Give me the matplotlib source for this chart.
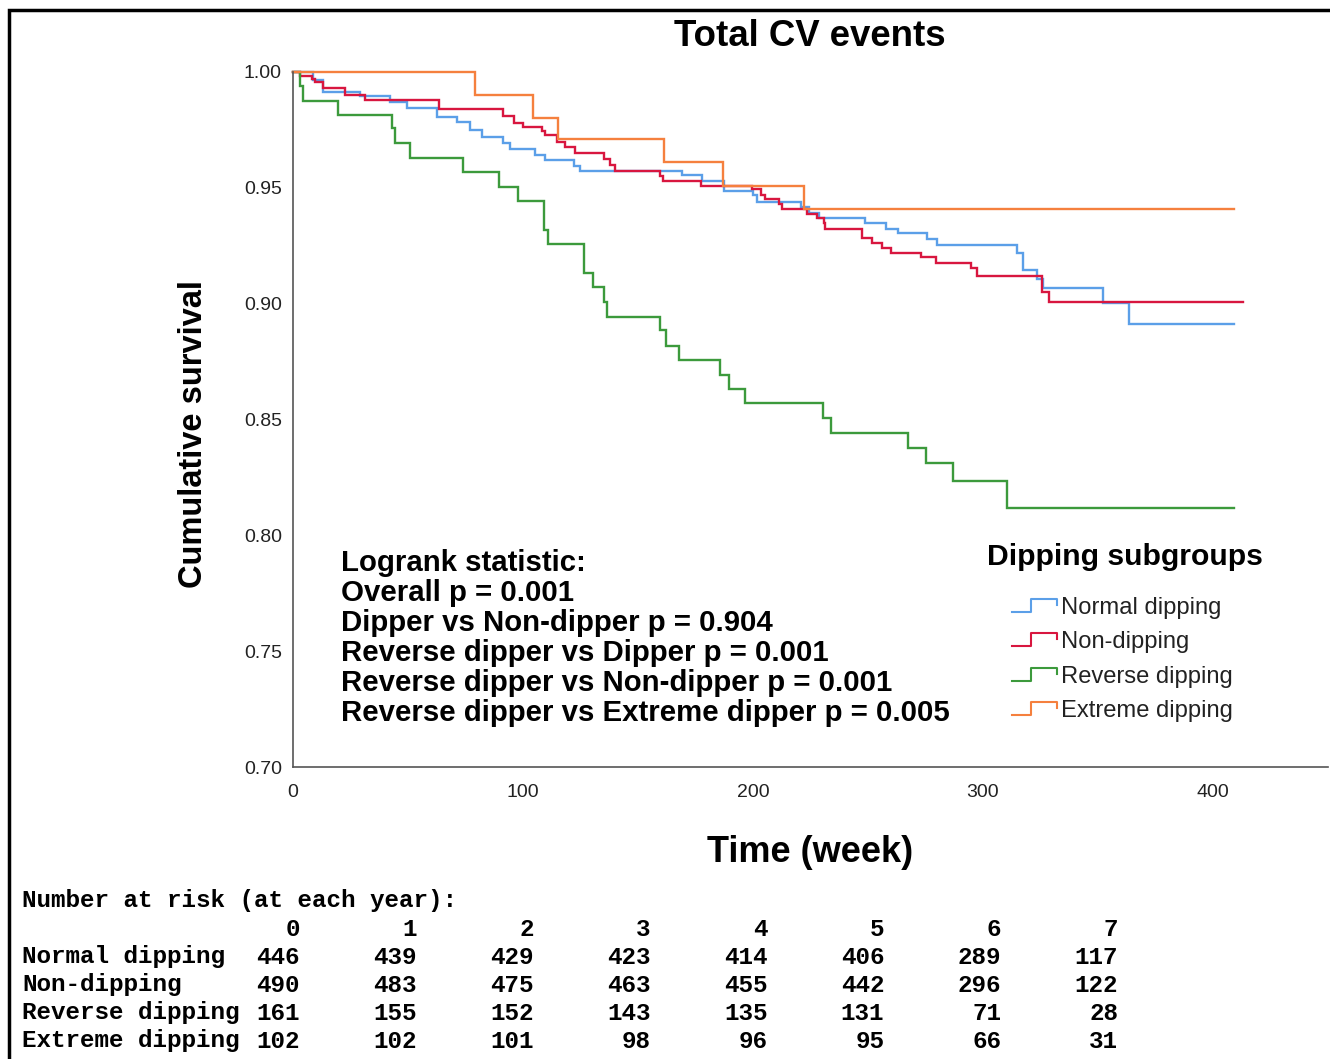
import matplotlib
matplotlib.use("Agg")
import matplotlib.pyplot as plt
from matplotlib.lines import Line2D

# ---------------- data ----------------
groups = ["Normal dipping", "Non-dipping", "Reverse dipping", "Extreme dipping"]
colors = ["#5B9FE8", "#D8163F", "#3C9A3C", "#F5803E"]

normal_t = [8.8, 13.2, 29.2, 42.2, 49.5, 62.5, 71.2, 77, 82.1, 91.5, 94.4, 105.3, 109.7,
            122, 124.9, 169.2, 177.9, 187.3, 200.1, 201.8, 220.7, 224.3, 228.6, 248.5,
            257.8, 263, 275.6, 280.2, 314.7, 317.6, 323.4, 326.3, 352, 363.6]
normal_s = [0.9965, 0.9915, 0.9896, 0.9872, 0.9843, 0.9807, 0.9786, 0.975, 0.9721, 0.9692,
            0.9666, 0.9642, 0.962, 0.9594, 0.9574, 0.9555, 0.9531, 0.9488, 0.9469, 0.944,
            0.9419, 0.939, 0.937, 0.9347, 0.9321, 0.9304, 0.9279, 0.9253, 0.9217, 0.9145,
            0.9105, 0.9066, 0.9002, 0.8912]
normal_end = 409

nondip_t = [3.0, 8.1, 9.6, 13.2, 22.6, 31.3, 63.3, 91.5, 95.9, 100.2, 108.2, 109.7, 114.8,
            118.4, 122.7, 135, 138, 140.2, 159.7, 160.9, 177.2, 199.6, 203.3, 205.4, 211.2,
            212.7, 223.6, 227.9, 230.8, 231.5, 247.5, 251.9, 256.2, 259.9, 272.9, 279.4,
            294.7, 297.3, 325.8, 328.8]
nondip_s = [0.9983, 0.9968, 0.9958, 0.993, 0.9901, 0.9879, 0.9839, 0.981, 0.9781, 0.9764,
            0.9747, 0.9728, 0.9699, 0.9678, 0.9652, 0.9623, 0.9599, 0.9574, 0.9551, 0.9531,
            0.9508, 0.9494, 0.9469, 0.945, 0.943, 0.9407, 0.9387, 0.9368, 0.9347, 0.9321,
            0.9282, 0.9263, 0.9239, 0.922, 0.92, 0.9177, 0.9153, 0.912, 0.9052, 0.9009]
nondip_end = 413

reverse_t = [3.0, 4.5, 19.4, 43, 44.4, 51, 74, 89.4, 98, 109, 110.8, 126.4, 130.4, 135,
             136.5, 159.7, 162, 167.7, 185.6, 189.5, 196.7, 230.4, 233.7, 267.5, 275,
             287.1, 310.6]
reverse_s = [0.9938, 0.9876, 0.9814, 0.9757, 0.9692, 0.9627, 0.957, 0.9505, 0.9444, 0.9318,
             0.9258, 0.9134, 0.9071, 0.9008, 0.8944, 0.8886, 0.8819, 0.8757, 0.8692, 0.863,
             0.857, 0.8505, 0.8443, 0.8378, 0.8314, 0.8235, 0.8119]
reverse_end = 409

extreme_t = [79, 104.5, 115, 161.5, 187, 222]
extreme_s = [0.990, 0.980, 0.971, 0.961, 0.951, 0.941]
extreme_end = 409

series_t = [normal_t, nondip_t, reverse_t, extreme_t]
series_s = [normal_s, nondip_s, reverse_s, extreme_s]
series_end = [normal_end, nondip_end, reverse_end, extreme_end]

x_ticks = [0, 100, 200, 300, 400]
y_ticks = [0.70, 0.75, 0.80, 0.85, 0.90, 0.95, 1.00]

logrank_lines = ["Logrank statistic:",
                 "Overall p = 0.001",
                 "Dipper vs Non-dipper p = 0.904",
                 "Reverse dipper vs Dipper p = 0.001",
                 "Reverse dipper vs Non-dipper p = 0.001",
                 "Reverse dipper vs Extreme dipper p = 0.005"]

risk_years = [0, 1, 2, 3, 4, 5, 6, 7]
risk_normal = [446, 439, 429, 423, 414, 406, 289, 117]
risk_nondip = [490, 483, 475, 463, 455, 442, 296, 122]
risk_reverse = [161, 155, 152, 143, 135, 131, 71, 28]
risk_extreme = [102, 102, 101, 98, 96, 95, 66, 31]
risk_rows = [risk_normal, risk_nondip, risk_reverse, risk_extreme]

# ---------------- figure ----------------
W, H = 1330, 1059
fig = plt.figure(figsize=(W / 100, H / 100), dpi=100)
fig.patch.set_facecolor("white")

def fx(px):
    return px / W

def fy(py):
    return 1 - py / H

ax = fig.add_axes([fx(293), fy(767), fx(1328) - fx(293), fy(72) - fy(767)])
ax.set_xlim(0, 450)
ax.set_ylim(0.70, 1.0)

for t, s, end, c in zip(series_t, series_s, series_end, colors):
    xs = [0] + list(t) + [end]
    ys = [1.0] + list(s) + [s[-1]]
    ax.plot(xs, ys, drawstyle="steps-post", color=c, lw=1.7, clip_on=False,
            solid_joinstyle="miter")

for side in ["top", "right"]:
    ax.spines[side].set_visible(False)
for side in ["left", "bottom"]:
    ax.spines[side].set_color("#555555")
    ax.spines[side].set_linewidth(1.2)

ax.set_xticks(x_ticks)
ax.set_xticklabels([str(v) for v in x_ticks])
ax.set_yticks(y_ticks)
ax.set_yticklabels([f"{v:.2f}" for v in y_ticks])
ax.tick_params(axis="both", length=0, labelsize=14, colors="#222222")
ax.tick_params(axis="x", pad=12)
ax.tick_params(axis="y", pad=8)
for lab in ax.get_xticklabels() + ax.get_yticklabels():
    lab.set_fontfamily("Liberation Sans")

sans = ["Liberation Sans", "DejaVu Sans"]
mono = ["Liberation Mono", "DejaVu Sans Mono"]

fig.text(fx(810), fy(37), "Total CV events", ha="center", va="center",
         fontsize=26.4, fontweight="bold", family=sans)
fig.text(fx(193), fy(434), "Cumulative survival", ha="center", va="center",
         rotation=90, fontsize=23.5, fontweight="bold", family=sans)
fig.text(fx(810), fy(852), "Time (week)", ha="center", va="center",
         fontsize=26, fontweight="bold", family=sans)

# logrank annotation
for i, line in enumerate(logrank_lines):
    fig.text(fx(341), fy(563 + 30 * i), line, ha="left", va="center",
             fontsize=21.2, fontweight="bold", family=sans)

# legend (manual, SPSS style)
fig.text(fx(1125), fy(557), "Dipping subgroups", ha="center", va="center",
         fontsize=21.7, fontweight="bold", family=sans)
leg_y = [608, 642, 677, 711]
for name, c, yy in zip(groups, colors, leg_y):
    xs = [fx(1012), fx(1031), fx(1031), fx(1057), fx(1057)]
    ys = [fy(yy + 4), fy(yy + 4), fy(yy - 9), fy(yy - 9), fy(yy - 3)]
    fig.add_artist(Line2D(xs, ys, color=c, lw=1.5, transform=fig.transFigure))
    fig.text(fx(1061), fy(yy), name, ha="left", va="center",
             fontsize=17.1, family=sans, color="#222222")

# number at risk table
tfs = 17.5
col_right = [300 + 116.86 * j for j in range(len(risk_years))]
fig.text(fx(22), fy(901), "Number at risk (at each year):", ha="left", va="center",
         fontsize=tfs, fontweight="bold", family=mono)
for xr, yr in zip(col_right, risk_years):
    fig.text(fx(xr), fy(929), str(yr), ha="right", va="center",
             fontsize=tfs, fontweight="bold", family=mono)
for i, (name, row) in enumerate(zip(groups, risk_rows)):
    yy = 957 + 28 * i
    fig.text(fx(22), fy(yy), name, ha="left", va="center",
             fontsize=tfs, fontweight="bold", family=mono)
    for xr, v in zip(col_right, row):
        fig.text(fx(xr), fy(yy), str(v), ha="right", va="center",
                 fontsize=tfs, fontweight="bold", family=mono)

# outer frame (left and top)
fig.add_artist(Line2D([fx(9), fx(9), fx(1330)], [fy(1059), fy(10), fy(10)],
                      color="black", lw=2.5, transform=fig.transFigure,
                      solid_joinstyle="miter"))

fig.savefig("out.png", dpi=100)
